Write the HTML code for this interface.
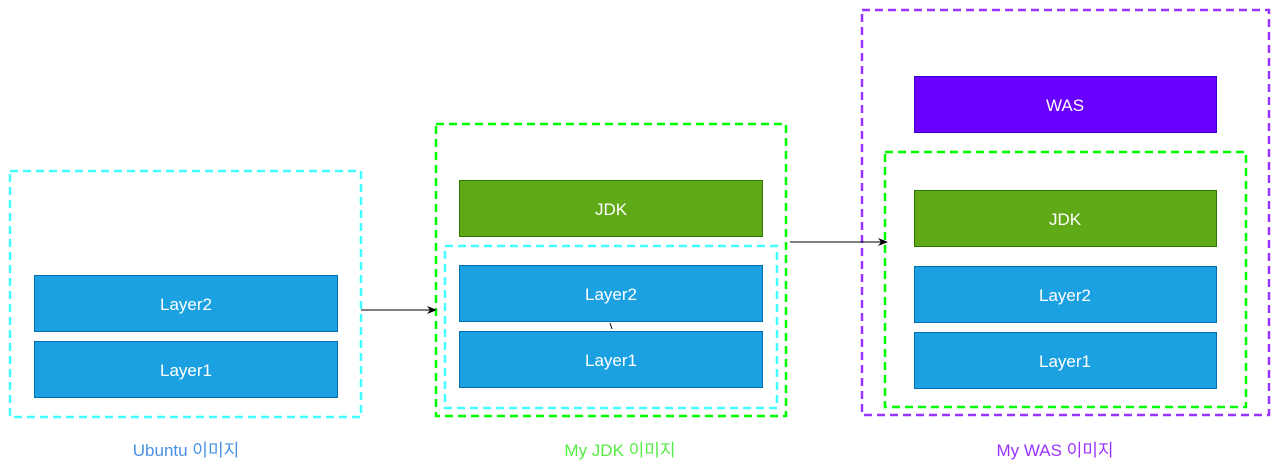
<!DOCTYPE html>
<html><head><meta charset="utf-8"><style>
html,body{margin:0;padding:0;background:#fff;width:1280px;height:474px;overflow:hidden}
text{font-family:"Liberation Sans","Noto Sans CJK KR",sans-serif}
</style></head><body>
<svg width="1280" height="474" viewBox="0 0 1280 474" xmlns="http://www.w3.org/2000/svg">
<defs><marker id="a" markerWidth="10" markerHeight="8" refX="9" refY="4" orient="auto" markerUnits="userSpaceOnUse"><path d="M0,0 L10,4 L0,8 L3,4 Z" fill="#000"/></marker></defs>
<g fill="none" stroke-width="2.5" stroke-dasharray="8 5">
<rect x="10" y="171" width="351" height="246" stroke="#44ffff"/>
<rect x="436" y="124" width="350" height="292" stroke="#00ff00"/>
<rect x="445" y="246" width="332" height="162" stroke="#44ffff"/>
<rect x="862" y="10" width="407" height="405" stroke="#9933ff"/>
<rect x="885" y="152" width="361" height="255" stroke="#00ff00"/>
</g>
<g stroke-width="1" font-size="17" text-anchor="middle" fill="#fff">
<rect x="34.5" y="275.5" width="303" height="56" fill="#1ba1e2" stroke="#006eaf"/>
<rect x="34.5" y="341.5" width="303" height="56" fill="#1ba1e2" stroke="#006eaf"/>
<rect x="459.5" y="180.5" width="303" height="56" fill="#60a917" stroke="#2d7600"/>
<rect x="459.5" y="265.5" width="303" height="56" fill="#1ba1e2" stroke="#006eaf"/>
<rect x="459.5" y="331.5" width="303" height="56" fill="#1ba1e2" stroke="#006eaf"/>
<rect x="914.5" y="76.5" width="302" height="56" fill="#6a00ff" stroke="#3700cc"/>
<rect x="914.5" y="190.5" width="302" height="56" fill="#60a917" stroke="#2d7600"/>
<rect x="914.5" y="266.5" width="302" height="56" fill="#1ba1e2" stroke="#006eaf"/>
<rect x="914.5" y="332.5" width="302" height="56" fill="#1ba1e2" stroke="#006eaf"/>
</g>
<g font-size="17" text-anchor="middle" fill="#fff">
<text x="186" y="310">Layer2</text>
<text x="186" y="376">Layer1</text>
<text x="611" y="215">JDK</text>
<text x="611" y="300">Layer2</text>
<text x="611" y="366">Layer1</text>
<text x="1065" y="111">WAS</text>
<text x="1065" y="225">JDK</text>
<text x="1065" y="301">Layer2</text>
<text x="1065" y="367">Layer1</text>
</g>
<line x1="361" y1="310" x2="436" y2="310" stroke="#000" stroke-width="1" marker-end="url(#a)"/>
<line x1="790" y1="242" x2="887" y2="242" stroke="#000" stroke-width="1" marker-end="url(#a)"/>
<line x1="610" y1="323" x2="612" y2="329" stroke="#000" stroke-width="1"/>
<g font-size="17" text-anchor="middle">
<text x="186" y="456" fill="#4a90e2">Ubuntu 이미지</text>
<text x="620" y="456" fill="#55ee44">My JDK 이미지</text>
<text x="1055" y="456" fill="#9933ff">My WAS 이미지</text>
</g>
</svg>
</body></html>
